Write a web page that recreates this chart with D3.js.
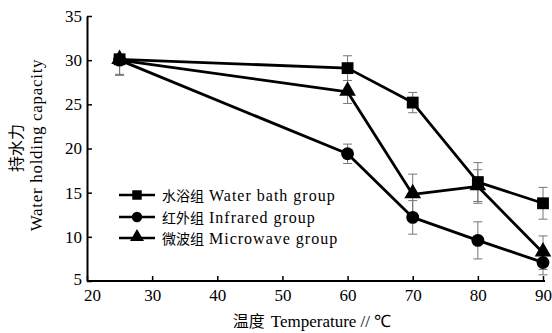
<!DOCTYPE html>
<html><head><meta charset="utf-8">
<script src="https://cdn.jsdelivr.net/npm/d3@7"></script>
<style>body{margin:0;background:#fff}svg{display:block}</style>
</head><body>
<svg id="c" width="552" height="333"></svg>
<script>
const temps = [25, 60, 70, 80, 90];
const waterBath = [30.1, 29.1, 25.2, 16.2, 13.8];
const waterBathErr = [1.7, 1.4, 1.15, 2.2, 1.8];
const infrared = [30.0, 19.4, 12.2, 9.6, 7.1];
const infraredErr = [1.7, 1.1, 1.9, 2.1, 1.4];
const microwave = [30.0, 26.4, 14.8, 15.7, 8.2];
const microwaveErr = [1.7, 1.3, 2.3, 1.9, 1.9];
const xTicks = [20, 30, 40, 50, 60, 70, 80, 90];
const yTicks = [5, 10, 15, 20, 25, 30, 35];
const seriesNames = ["水浴组 Water bath group", "红外组 Infrared group", "微波组 Microwave group"];
const seriesSymbols = [d3.symbolSquare, d3.symbolCircle, d3.symbolTriangle];
const seriesData = [waterBath, infrared, microwave];
const seriesErr = [waterBathErr, infraredErr, microwaveErr];

const svg = d3.select("#c");
const x = d3.scaleLinear().domain([20, 90]).range([87, 543]);
const y = d3.scaleLinear().domain([5, 35]).range([281, 16]);
const numFont = "'Liberation Serif', 'Times New Roman', serif";

// axes
const xAxis = svg.append("g").attr("transform", "translate(0,281)")
  .call(d3.axisBottom(x).tickValues(xTicks).tickSize(-5).tickSizeOuter(0).tickPadding(8));
const yAxis = svg.append("g").attr("transform", "translate(87,0)")
  .call(d3.axisLeft(y).tickValues(yTicks).tickSize(-5).tickSizeOuter(0).tickPadding(5));
[xAxis, yAxis].forEach(a => {
  a.attr("font-family", numFont).attr("font-size", 17);
  a.select(".domain").attr("stroke", "#000").attr("stroke-width", 2);
  a.selectAll(".tick line").attr("stroke", "#000").attr("stroke-width", 1.5);
  a.selectAll(".tick text").style("font-family", numFont).attr("font-size", 17).attr("fill", "#000");
});
xAxis.select(".domain").attr("d", "M87,0H545");
xAxis.selectAll(".tick text").filter(d => d === 20).attr("dx", 5);
yAxis.selectAll(".tick text").filter(d => d === 5).attr("dy", "0.2em");

// error bars
seriesData.forEach((vals, si) => {
  const g = svg.append("g").attr("stroke", "#777").attr("stroke-width", 1);
  vals.forEach((v, i) => {
    const e = seriesErr[si][i];
    const cx = x(temps[i]);
    const top = i === 0 ? v : v + e;
    g.append("line").attr("x1", cx).attr("x2", cx).attr("y1", y(top)).attr("y2", y(v - e));
    if (i !== 0) g.append("line").attr("x1", cx - 4.5).attr("x2", cx + 4.5).attr("y1", y(v + e)).attr("y2", y(v + e));
    g.append("line").attr("x1", cx - 4.5).attr("x2", cx + 4.5).attr("y1", y(v - e)).attr("y2", y(v - e));
  });
});

// lines and markers
const line = d3.line().x((d, i) => x(temps[i])).y(d => y(d));
const symSizes = [140, 130, 120];
seriesData.forEach((vals, si) => {
  svg.append("path").attr("d", line(vals)).attr("fill", "none")
    .attr("stroke", "#000").attr("stroke-width", 2.8).attr("stroke-linejoin", "round");
  vals.forEach((v, i) => {
    const sy = seriesSymbols[si] === d3.symbolTriangle ? y(v) - 1 : y(v);
    svg.append("path").attr("d", d3.symbol(seriesSymbols[si], symSizes[si])())
      .attr("transform", `translate(${x(temps[i])},${sy})`).attr("fill", "#000");
  });
});

// legend
const legY = [195, 217, 238];
seriesNames.forEach((name, si) => {
  const g = svg.append("g");
  g.append("line").attr("x1", 119).attr("x2", 155).attr("y1", legY[si]).attr("y2", legY[si])
    .attr("stroke", "#000").attr("stroke-width", 2.5);
  g.append("path").attr("d", d3.symbol(seriesSymbols[si], si === 0 ? 90 : 85)())
    .attr("transform", `translate(137,${legY[si] - (si === 2 ? 1 : 0)})`).attr("fill", "#000");
  const parts = name.split(" ");
  const t = g.append("text").attr("x", 162).attr("y", legY[si] + 5.5).attr("fill", "#000").attr("font-size", 16)
    .style("font-family", numFont);
  t.append("tspan").style("font-family", "Noto Sans CJK SC").attr("font-size", 14).text(parts[0]);
  t.append("tspan").attr("dx", 5).attr("letter-spacing", 1).text(parts.slice(1).join(" "));
});

// axis titles
const xt = svg.append("text").attr("x", 312).attr("y", 327).attr("text-anchor", "middle")
  .attr("font-size", 17).attr("fill", "#000").style("font-family", numFont);
xt.append("tspan").style("font-family", "Noto Sans CJK SC").attr("font-size", 16).text("温度");
xt.append("tspan").attr("dx", 6).text("Temperature // ℃");

svg.append("text").attr("transform", "translate(22,148) rotate(-90)").attr("text-anchor", "middle")
  .style("font-family", "Noto Sans CJK SC").attr("font-size", 16).attr("fill", "#000").text("持水力");
svg.append("text").attr("transform", "translate(42,145) rotate(-90)").attr("text-anchor", "middle")
  .style("font-family", numFont).attr("font-size", 17).attr("letter-spacing", 0.7).attr("fill", "#000").text("Water holding capacity");
</script>
</body></html>
